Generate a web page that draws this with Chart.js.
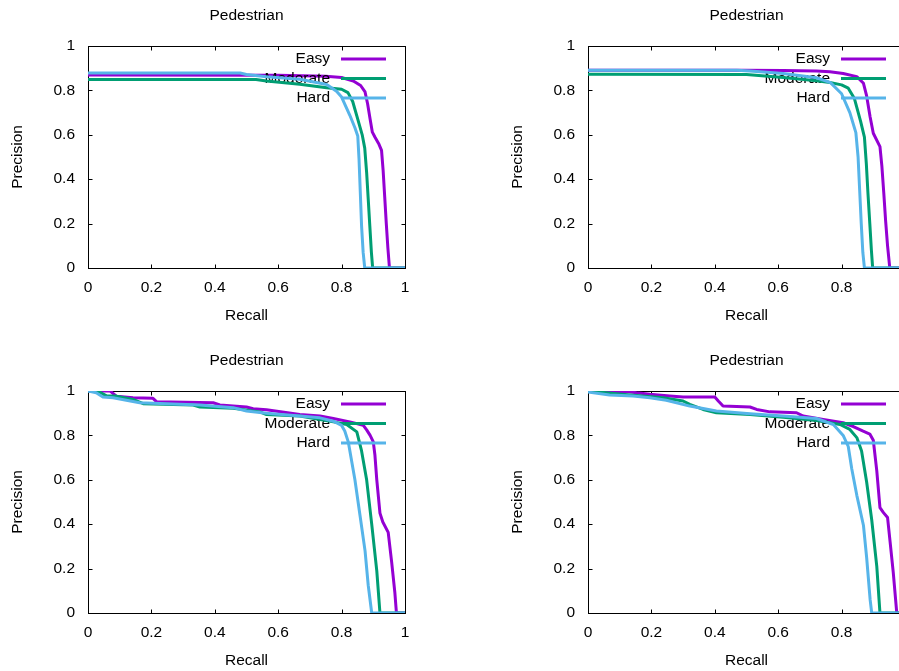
<!DOCTYPE html>
<html>
<head>
<meta charset="utf-8">
<script src="https://cdn.jsdelivr.net/npm/chart.js@4.4.1/dist/chart.umd.min.js"></script>
<style>
  html, body { margin: 0; padding: 0; background: #fff; overflow: hidden; }
  .panel { position: absolute; width: 500px; height: 345px; }
</style>
</head>
<body>
<div class="panel" style="left:0;top:0"><canvas id="chart-tl"></canvas></div>
<div class="panel" style="left:500px;top:0"><canvas id="chart-tr"></canvas></div>
<div class="panel" style="left:0;top:345px"><canvas id="chart-bl"></canvas></div>
<div class="panel" style="left:500px;top:345px"><canvas id="chart-br"></canvas></div>
<script>
const tickValues = [0, 0.2, 0.4, 0.6, 0.8, 1];
const tickLabels = ["0", "0.2", "0.4", "0.6", "0.8", "1"];
const seriesNames = ["Easy", "Moderate", "Hard"];
const seriesColors = ["#9400d3", "#009e73", "#56b4e9"];
const chartTitle = "Pedestrian";
const xTitle = "Recall";
const yTitle = "Precision";

// [recall, precision]
// start: top left
const tlEasy = [[0, .869], [.6, .868], [.75, .864], [.8, .858], [.837, .842], [.86, .822], [.874, .793], [.882, .74], [.89, .67], [.897, .612], [.905, .59], [.918, .557], [.926, .53], [.931, .44], [.936, .32], [.941, .2], [.946, .09], [.951, 0], [1, 0]];
const tlModerate = [[0, .849], [.53, .849], [.563, .842], [.668, .828], [.753, .812], [.8, .805], [.82, .79], [.835, .75], [.848, .685], [.865, .6], [.873, .54], [.879, .43], [.884, .31], [.889, .19], [.894, .07], [.898, 0], [1, 0]];
const tlHard = [[0, .878], [.48, .878], [.5, .872], [.563, .862], [.668, .85], [.753, .827], [.784, .796], [.8, .77], [.826, .688], [.842, .632], [.851, .595], [.855, .49], [.859, .34], [.863, .19], [.868, .07], [.873, 0], [1, 0]];
// end: top left

// start: top right
const trEasy = [[0, .891], [.49, .891], [.616, .89], [.721, .887], [.763, .884], [.805, .876], [.848, .862], [.869, .832], [.879, .775], [.89, .68], [.9, .607], [.921, .547], [.927, .46], [.933, .34], [.939, .21], [.945, .1], [.952, 0], [1, 0]];
const trModerate = [[0, .873], [.5, .872], [.616, .858], [.721, .843], [.763, .836], [.8, .825], [.821, .81], [.84, .765], [.86, .66], [.872, .59], [.878, .47], [.883, .34], [.889, .2], [.894, .08], [.898, 0], [1, 0]];
const trHard = [[0, .891], [.47, .891], [.511, .887], [.616, .876], [.721, .857], [.765, .835], [.8, .785], [.826, .7], [.845, .61], [.852, .5], [.857, .35], [.862, .2], [.867, .07], [.872, 0], [1, 0]];
// end: top right

// start: bottom left
const blEasy = [[0, 1], [.07, 1], [.09, .976], [.142, .97], [.205, .967], [.216, .952], [.395, .947], [.416, .937], [.5, .928], [.521, .92], [.563, .916], [.668, .894], [.732, .887], [.774, .876], [.826, .861], [.868, .846], [.879, .825], [.89, .8], [.9, .771], [.905, .713], [.911, .6], [.921, .45], [.93, .41], [.947, .363], [.958, .228], [.968, .092], [.973, 0], [1, 0]];
const blModerate = [[0, 1], [.03, 1], [.06, .977], [.09, .977], [.142, .962], [.174, .943], [.332, .937], [.353, .928], [.458, .922], [.542, .906], [.563, .894], [.668, .887], [.732, .872], [.774, .861], [.816, .849], [.848, .816], [.863, .73], [.879, .6], [.895, .4], [.911, .19], [.921, 0], [1, 0]];
const blHard = [[0, 1], [.026, .992], [.047, .973], [.079, .97], [.121, .958], [.163, .947], [.247, .943], [.353, .937], [.458, .925], [.5, .91], [.563, .9], [.668, .887], [.732, .879], [.774, .864], [.8, .845], [.81, .82], [.821, .771], [.842, .6], [.858, .44], [.874, .28], [.884, .125], [.895, 0], [1, 0]];
// end: bottom left

// start: bottom right
const brEasy = [[0, 1], [.129, .997], [.153, .992], [.195, .985], [.258, .977], [.3, .973], [.4, .973], [.411, .955], [.426, .932], [.511, .928], [.532, .917], [.574, .906], [.658, .902], [.679, .887], [.742, .872], [.805, .857], [.837, .84], [.868, .819], [.889, .806], [.9, .778], [.911, .64], [.921, .475], [.932, .452], [.945, .43], [.953, .32], [.963, .182], [.974, 0], [1, 0]];
const brModerate = [[0, 1], [.089, .988], [.153, .98], [.237, .97], [.3, .955], [.321, .94], [.363, .917], [.405, .902], [.511, .894], [.616, .882], [.721, .867], [.795, .849], [.826, .827], [.848, .79], [.863, .73], [.879, .59], [.895, .42], [.911, .21], [.921, 0], [1, 0]];
const brHard = [[0, .995], [.068, .982], [.142, .977], [.195, .97], [.247, .958], [.321, .932], [.405, .91], [.511, .897], [.616, .887], [.721, .876], [.774, .849], [.805, .8], [.821, .75], [.832, .65], [.848, .53], [.869, .394], [.879, .25], [.89, .06], [.895, 0], [1, 0]];
// end: bottom right

const fontFamily = '"Liberation Sans", Arial, sans-serif';
const fontSize = 15.5;

// gnuplot style: frame, inward ticks, titles, key entry before each curve
const gnuplotLook = {
  id: "gnuplotLook",
  beforeDatasetsDraw(chart) {
    const { ctx, chartArea: a, scales } = chart;
    const l = Math.round(a.left) + 0.5;
    const r = Math.round(a.right) + 0.5;
    const t = Math.round(a.top) + 0.5;
    const b = Math.round(a.bottom) + 0.5;
    ctx.save();
    ctx.strokeStyle = "#000";
    ctx.lineWidth = 1;
    ctx.strokeRect(l, t, r - l, b - t);
    ctx.beginPath();
    tickValues.forEach(function (v) {
      const x = Math.round(scales.x.getPixelForValue(v)) + 0.5;
      const y = Math.round(scales.y.getPixelForValue(v)) + 0.5;
      ctx.moveTo(x, b); ctx.lineTo(x, b - 4);
      ctx.moveTo(x, t); ctx.lineTo(x, t + 4);
      ctx.moveTo(l, y); ctx.lineTo(l + 4, y);
      ctx.moveTo(r, y); ctx.lineTo(r - 4, y);
    });
    ctx.stroke();

    ctx.fillStyle = "#000";
    ctx.font = fontSize + "px " + fontFamily;
    ctx.textAlign = "center";
    ctx.textBaseline = "middle";
    const cx = (a.left + a.right) / 2;
    const cy = (a.top + a.bottom) / 2;
    ctx.fillText(chartTitle, cx, a.top - 30);
    ctx.fillText(xTitle, cx, a.bottom + 48);
    ctx.translate(18, cy);
    ctx.rotate(-Math.PI / 2);
    ctx.fillText(yTitle, 0, 0);
    ctx.restore();
  },
  beforeDatasetDraw(chart, args) {
    const { ctx, chartArea: a } = chart;
    const i = args.index;
    const y = a.top + 13 + i * 19.5;
    ctx.save();
    ctx.fillStyle = "#000";
    ctx.font = fontSize + "px " + fontFamily;
    ctx.textAlign = "right";
    ctx.textBaseline = "middle";
    ctx.fillText(seriesNames[i], a.right - 75, y);
    ctx.strokeStyle = seriesColors[i];
    ctx.lineWidth = 3;
    ctx.beginPath();
    ctx.moveTo(a.right - 64, y);
    ctx.lineTo(a.right - 19, y);
    ctx.stroke();
    ctx.restore();
  },
};

function axis(extra) {
  return Object.assign({
    type: "linear",
    min: 0,
    max: 1,
    grid: { display: false, drawTicks: false },
    border: { display: false },
    afterBuildTicks: function (scale) {
      scale.ticks = tickValues.map(function (v) { return { value: v }; });
    },
  }, extra);
}

function makeChart(id, easy, moderate, hard) {
  const sets = [easy, moderate, hard];
  new Chart(document.getElementById(id), {
    type: "line",
    data: {
      datasets: sets.map(function (points, i) {
        return {
          label: seriesNames[i],
          data: points.map(function (p) { return { x: p[0], y: p[1] }; }),
          borderColor: seriesColors[i],
          borderWidth: 3,
          borderJoinStyle: "round",
          pointRadius: 0,
          tension: 0,
          fill: false,
          order: 3 - i,
        };
      }),
    },
    options: {
      responsive: true,
      maintainAspectRatio: false,
      animation: false,
      layout: { padding: { top: 46, right: 95, left: 0, bottom: 0 } },
      plugins: { legend: { display: false }, tooltip: { enabled: false } },
      scales: {
        x: axis({
          afterFit: function (scale) { scale.height = 77; },
          ticks: {
            padding: 10,
            color: "#000",
            autoSkip: false,
            maxRotation: 0,
            font: { family: fontFamily, size: fontSize },
            callback: function (v, i) { return tickLabels[i]; },
          },
        }),
        y: axis({
          afterFit: function (scale) { scale.width = 88; },
          ticks: {
            padding: 13,
            color: "#000",
            autoSkip: false,
            font: { family: fontFamily, size: fontSize },
            callback: function (v, i) { return tickLabels[i]; },
          },
        }),
      },
    },
    plugins: [gnuplotLook],
  });
}

makeChart("chart-tl", tlEasy, tlModerate, tlHard);
makeChart("chart-tr", trEasy, trModerate, trHard);
makeChart("chart-bl", blEasy, blModerate, blHard);
makeChart("chart-br", brEasy, brModerate, brHard);
</script>
</body>
</html>
